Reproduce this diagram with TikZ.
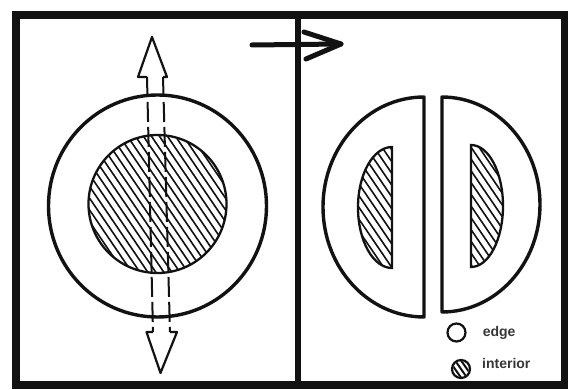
\documentclass[tikz,border=0pt]{standalone}
\usepackage{fontspec}
\setmainfont{Liberation Sans}
\usetikzlibrary{positioning,calc}
\definecolor{ink}{RGB}{18,18,18}
\definecolor{keyink}{RGB}{55,55,55}

\begin{document}
\begin{tikzpicture}[x=1pt, y=-1pt,
  frame/.style={draw=ink, line width=7.5pt},
  rim/.style={draw=ink, line width=3.4pt, line join=round},
  core/.style={draw=ink, line width=2.3pt},
  hatch/.style={draw=ink, line width=1.6pt},
  shaft/.style={draw=ink, line width=2pt, dash pattern=on 20pt off 5pt},
  head/.style={draw=ink, line width=2.2pt, line join=round},
  bigarrow/.style={draw=ink, line width=5pt, line cap=round, line join=round},
  keydot/.style={circle, draw=ink, line width=2.2pt, minimum size=18pt, inner sep=0pt},
  keytxt/.style={font=\fontsize{14}{16}\selectfont\bfseries, text=keyink, inner sep=0pt},
]
\useasboundingbox (0,0) rectangle (568,390);

% frame and divider
\draw[frame] (16,15) rectangle (565,385);
\draw[ink, line width=5.5pt] (298,15) -- (298,385);

% arrow between the panels
\coordinate (goS) at (252,45);
\coordinate (goE) at (341,44);
\coordinate (goU) at (304,32);
\coordinate (goL) at (306,59);
\draw[bigarrow] (goS) -- (goE);
\draw[bigarrow] (goU) -- (goE) -- (goL);

% left panel: the whole piece
\draw[rim] (157.5,206) circle[x radius=109, y radius=111];
\begin{scope}
  \clip (157.5,204) circle[radius=69];
  \foreach \c in {-96,-88,...,96}
    \draw[hatch] ({157.5+\c-70},101) -- ++(140,206);
\end{scope}
\draw[core] (157.5,204) circle[radius=69];

% double arrow through it
\draw[head] (147,77) -- (138,77) -- (152,37) -- (167,77) -- (163,77);
\draw[head] (153,332) -- (146.5,332) -- (160.5,373) -- (177,332) -- (170,332);
\draw[shaft] (147,77) -- (153,332);
\draw[shaft] (163,77) -- (170,332);

% right panel: the two halves
\draw[rim] (424,97) arc[start angle=-90, end angle=-270, x radius=101, y radius=110] -- cycle;
\begin{scope}
  \clip (392,147) arc[start angle=-90, end angle=-270, x radius=34, y radius=60.5] -- cycle;
  \foreach \c in {-96,-88,...,96}
    \draw[hatch] ({375+\c-50},134) -- ++(100,147);
\end{scope}
\draw[core] (392,147) arc[start angle=-90, end angle=-270, x radius=34, y radius=60.5] -- cycle;

\draw[rim] (442,97) arc[start angle=-90, end angle=90, x radius=98, y radius=107.5] -- cycle;
\begin{scope}
  \clip (471,145) arc[start angle=-90, end angle=90, x radius=32, y radius=61] -- cycle;
  \foreach \c in {-96,-88,...,96}
    \draw[hatch] ({487+\c-50},132.5) -- ++(100,147);
\end{scope}
\draw[core] (471,145) arc[start angle=-90, end angle=90, x radius=32, y radius=61] -- cycle;

% key
\node[keydot] (edgeDot) at (456.5,332.5) {};
\node[keydot] (coreDot) at (461,369) {};
\begin{scope}
  \clip (coreDot.center) circle[radius=8];
  \foreach \c in {-6,0,6}
    \draw[ink, line width=2pt] ($(coreDot.center)+(\c-7,-10)$) -- ++(14,20);
\end{scope}
\node[keytxt, anchor=west, right=16pt of edgeDot] (edgeTxt) {edge};
\node[keytxt, anchor=west] (coreTxt) at (482,363) {interior};
\end{tikzpicture}
\end{document}
